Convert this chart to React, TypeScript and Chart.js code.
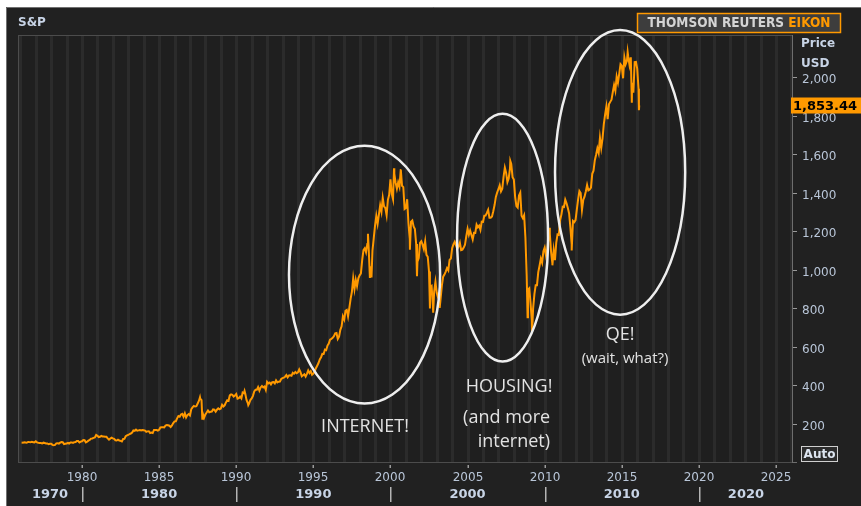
import React, { useEffect, useRef } from "react";
import { Chart, registerables } from "chart.js";

Chart.register(...registerables);

// ---------------- DATA ----------------
const FIRST_YEAR = 1976; // monthly closes start with January 1976 (plotted at month end)

const monthlyClose = [
  // 1976
  100.86, 99.71, 102.77, 101.64, 100.18, 104.28, 103.44, 102.91, 105.24, 102.9, 102.1, 107.46,
  // 1977
  102.03, 99.82, 98.42, 98.44, 96.12, 100.48, 98.85, 96.77, 96.53, 92.34, 94.83, 95.1,
  // 1978
  89.25, 87.04, 89.21, 96.83, 97.24, 95.53, 100.68, 103.29, 102.54, 93.15, 94.7, 96.11,
  // 1979
  99.93, 96.28, 101.59, 101.76, 99.08, 102.91, 103.81, 109.32, 109.32, 101.82, 106.16, 107.94,
  // 1980
  114.16, 113.66, 102.09, 106.29, 111.24, 114.24, 121.67, 122.38, 125.46, 127.47, 140.52, 135.76,
  // 1981
  129.55, 131.27, 136.0, 132.81, 132.59, 131.21, 130.92, 122.79, 116.18, 121.89, 126.35, 122.55,
  // 1982
  120.4, 113.11, 111.96, 116.44, 111.88, 109.61, 107.09, 119.51, 120.42, 133.71, 138.54, 140.64,
  // 1983
  145.3, 148.06, 152.96, 164.42, 162.39, 168.11, 162.56, 164.4, 166.07, 163.55, 166.4, 164.93,
  // 1984
  163.41, 157.06, 159.18, 160.05, 150.55, 153.18, 150.66, 166.68, 166.1, 166.09, 163.58, 167.24,
  // 1985
  179.63, 181.18, 180.66, 179.83, 189.55, 191.85, 190.92, 188.63, 182.08, 189.82, 202.17, 211.28,
  // 1986
  211.78, 226.92, 238.9, 235.52, 247.35, 250.84, 236.12, 252.93, 231.32, 243.98, 249.22, 242.17,
  // 1987
  274.08, 284.2, 291.7, 288.36, 290.1, 304.0, 318.66, 329.8, 321.83, 251.79, 230.3, 247.08,
  // 1988
  257.07, 267.82, 258.89, 261.33, 262.16, 273.5, 272.02, 261.52, 271.91, 278.97, 273.7, 277.72,
  // 1989
  297.47, 288.86, 294.87, 309.64, 320.52, 317.98, 346.08, 351.45, 349.15, 340.36, 345.99, 353.4,
  // 1990
  329.08, 331.89, 339.94, 330.8, 361.23, 358.02, 356.15, 322.56, 306.05, 304.0, 322.22, 330.22,
  // 1991
  343.93, 367.07, 375.22, 375.35, 389.83, 371.16, 387.81, 395.43, 387.86, 392.46, 375.22, 417.09,
  // 1992
  408.79, 412.7, 403.69, 414.95, 415.35, 408.14, 424.21, 414.03, 417.8, 418.68, 431.35, 435.71,
  // 1993
  438.78, 443.38, 451.67, 440.19, 450.19, 450.53, 448.13, 463.56, 458.93, 467.83, 461.79, 466.45,
  // 1994
  481.61, 467.14, 445.77, 450.91, 456.5, 444.27, 458.26, 475.49, 462.69, 472.35, 453.69, 459.27,
  // 1995
  470.42, 487.39, 500.71, 514.71, 533.4, 544.75, 562.06, 561.88, 584.41, 581.5, 605.37, 615.93,
  // 1996
  636.02, 640.43, 645.5, 654.17, 669.12, 670.63, 639.95, 651.99, 687.31, 705.27, 757.02, 740.74,
  // 1997
  786.16, 790.82, 757.12, 801.34, 848.28, 885.14, 954.29, 899.47, 947.28, 914.62, 955.4, 970.43,
  // 1998
  980.28, 1049.34, 1101.75, 1111.75, 1090.82, 1133.84, 1120.67, 957.28, 1017.01, 1098.67, 1163.63, 1229.23,
  // 1999
  1279.64, 1238.33, 1286.37, 1335.18, 1301.84, 1372.71, 1328.72, 1320.41, 1282.71, 1362.93, 1388.91, 1469.25,
  // 2000
  1394.46, 1366.42, 1498.58, 1452.43, 1420.6, 1454.6, 1430.83, 1517.68, 1436.51, 1429.4, 1315.23, 1320.28,
  // 2001
  1366.01, 1239.94, 1160.33, 1249.46, 1255.82, 1224.42, 1211.23, 1133.58, 1040.94, 1059.78, 1139.45, 1148.08,
  // 2002
  1130.2, 1106.73, 1147.39, 1076.92, 1067.14, 989.82, 911.62, 916.07, 815.28, 885.76, 936.31, 879.82,
  // 2003
  855.7, 841.15, 848.18, 916.92, 963.59, 974.5, 990.31, 1008.01, 995.97, 1050.71, 1058.2, 1111.92,
  // 2004
  1131.13, 1144.94, 1126.21, 1107.3, 1120.68, 1140.84, 1101.72, 1104.24, 1114.58, 1130.2, 1173.82, 1211.92,
  // 2005
  1181.27, 1203.6, 1180.59, 1156.85, 1191.5, 1191.33, 1234.18, 1220.33, 1228.81, 1207.01, 1249.48, 1248.29,
  // 2006
  1280.08, 1280.66, 1294.83, 1310.61, 1270.09, 1270.2, 1276.66, 1303.82, 1335.85, 1377.94, 1400.63, 1418.3,
  // 2007
  1438.24, 1406.82, 1420.86, 1482.37, 1530.62, 1503.35, 1455.27, 1473.99, 1526.75, 1549.38, 1481.14, 1468.36,
  // 2008
  1378.55, 1330.63, 1322.7, 1385.59, 1400.38, 1280.0, 1267.38, 1282.83, 1166.36, 968.75, 896.24, 903.25,
  // 2009
  825.88, 735.09, 797.87, 872.81, 919.14, 919.32, 987.48, 1020.62, 1057.08, 1036.19, 1095.63, 1115.1,
  // 2010
  1073.87, 1104.49, 1169.43, 1186.69, 1089.41, 1030.71, 1101.6, 1049.33, 1141.2, 1183.26, 1180.55, 1257.64,
  // 2011
  1286.12, 1327.22, 1325.83, 1363.61, 1345.2, 1320.64, 1292.28, 1218.89, 1131.42, 1253.3, 1246.96, 1257.6,
  // 2012
  1312.41, 1365.68, 1408.47, 1397.91, 1310.33, 1362.16, 1379.32, 1406.58, 1440.67, 1412.16, 1416.18, 1426.19,
  // 2013
  1498.11, 1514.68, 1569.19, 1597.57, 1630.74, 1606.28, 1685.73, 1632.97, 1681.55, 1756.54, 1805.81, 1848.36,
  // 2014
  1782.59, 1859.45, 1872.34, 1883.95, 1923.57, 1960.23, 1930.67, 2003.37, 1972.29, 2018.05, 2067.56, 2058.9,
  // 2015
  1994.99, 2104.5, 2067.89, 2085.51, 2107.39, 2063.11, 2103.84, 1972.18, 1920.03, 2079.36, 2080.41, 2043.94,
  // 2016
  1940.24,
];

// intra-month highs / lows visible in the daily line (decimal year, close)
const dailyExtremeDates = [
  1987.65, 1987.8, 1990.54, 1990.78, 1998.54, 1998.77, 2000.23, 2000.67, 2001.26, 2001.72,
  2002.56, 2002.77, 2003.19, 2007.77, 2008.89, 2009.18, 2010.31, 2010.5, 2011.75, 2015.38,
  2015.65, 2016.11,
];
const dailyExtremeValues = [
  336.77, 224.84, 368.95, 295.46, 1186.75, 959.44, 1527.46, 1520.77, 1103.25, 965.8,
  797.7, 776.76, 800.73, 1565.15, 752.44, 676.53, 1217.28, 1022.58, 1099.23, 2130.82,
  1867.61, 1829.08,
];

const lastDate = 2016.13;
const lastValue = 1853.44;

const yTickValues = [200, 400, 600, 800, 1000, 1200, 1400, 1600, 1800, 2000];
const xTickYears = [1980, 1985, 1990, 1995, 2000, 2005, 2010, 2015, 2020, 2025];
const decadeLabels = [1970, 1980, 1990, 2000, 2010, 2020];

const X_MIN = 1975.85;
const X_MAX = 2026.1;
const Y_MIN = 0;
const Y_MAX = 2220;

// annotation ellipses in data units: centre year, centre value, radius in years, radius in USD
const ellipseCenterYears = [1998.32, 2007.27, 2014.89];
const ellipseCenterValues = [974, 1166, 1506];
const ellipseRadiusYears = [4.9, 2.95, 4.22];
const ellipseRadiusValues = [670, 644, 740];

// annotation texts in data units
const noteTexts = ["INTERNET!", "HOUSING!", "(and more", "internet)", "QE!", "(wait, what?)"];
const noteYears = [1998.35, 2010.5, 2010.35, 2010.35, 2014.89, 2015.21];
const noteValues = [184, 392, 231, 106, 662, 538];
const noteAligns = ["center", "right", "right", "right", "center", "center"];
const noteSizes = [18, 18, 18, 18, 18, 15];

// ---------------- BUILD ----------------
function buildPoints() {
  const pts: { x: number; y: number }[] = [];
  monthlyClose.forEach((v, i) => pts.push({ x: FIRST_YEAR + (i + 1) / 12, y: v }));
  dailyExtremeDates.forEach((d, i) => pts.push({ x: d, y: dailyExtremeValues[i] }));
  pts.push({ x: lastDate, y: lastValue });
  pts.sort((a, b) => a.x - b.x);
  return pts;
}

const AXIS_TEXT = "#b9c6d8";
const AXIS_BOLD = "#c8d4e6";

const decorPlugin = {
  id: "eikonDecor",
  beforeDraw(chart: any) {
    const { ctx, chartArea: a } = chart;
    const xs = chart.scales.x;
    const W = chart.width;
    const H = chart.height;
    ctx.save();
    ctx.fillStyle = "#ffffff";
    ctx.fillRect(0, 0, W, H);
    ctx.fillStyle = "#212121";
    ctx.fillRect(6, 7, W - 6, H - 7);
    ctx.strokeStyle = "#707070";
    ctx.lineWidth = 1;
    ctx.beginPath();
    ctx.moveTo(6.5, H);
    ctx.lineTo(6.5, 7.5);
    ctx.lineTo(W, 7.5);
    ctx.stroke();

    ctx.fillStyle = "#1f1f1f";
    ctx.fillRect(a.left, a.top, a.right - a.left, a.bottom - a.top);
    ctx.fillStyle = "#2b2b2b";
    for (let yr = Math.ceil(xs.min); yr <= xs.max; yr++) {
      const x = Math.round(xs.getPixelForValue(yr));
      ctx.fillRect(x - 1, a.top, 3, a.bottom - a.top);
    }
    ctx.strokeStyle = "#4c4c4c";
    ctx.strokeRect(a.left + 0.5, a.top + 0.5, a.right - a.left - 1, a.bottom - a.top);
    ctx.restore();
  },
  afterDatasetsDraw(chart: any) {
    const { ctx } = chart;
    const xs = chart.scales.x;
    const ys = chart.scales.y;
    ctx.save();
    ctx.strokeStyle = "#eeeeee";
    ctx.lineWidth = 2.5;
    ellipseCenterYears.forEach((cy, i) => {
      const px = xs.getPixelForValue(cy);
      const py = ys.getPixelForValue(ellipseCenterValues[i]);
      const rx = Math.abs(xs.getPixelForValue(cy + ellipseRadiusYears[i]) - px);
      const ry = Math.abs(ys.getPixelForValue(ellipseCenterValues[i] + ellipseRadiusValues[i]) - py);
      ctx.beginPath();
      ctx.ellipse(px, py, rx, ry, 0, 0, Math.PI * 2);
      ctx.stroke();
    });
    ctx.fillStyle = "#e2e2e2";
    ctx.textBaseline = "middle";
    noteTexts.forEach((t, i) => {
      ctx.font = `${noteSizes[i]}px "Open Sans", "Noto Sans", sans-serif`;
      ctx.textAlign = noteAligns[i] as CanvasTextAlign;
      ctx.fillText(t, xs.getPixelForValue(noteYears[i]), ys.getPixelForValue(noteValues[i]));
    });
    ctx.restore();
  },
  afterDraw(chart: any) {
    const { ctx, chartArea: a } = chart;
    const xs = chart.scales.x;
    const ys = chart.scales.y;
    ctx.save();

    // title
    ctx.fillStyle = AXIS_BOLD;
    ctx.font = 'bold 12px "DejaVu Sans", sans-serif';
    ctx.textAlign = "left";
    ctx.textBaseline = "middle";
    ctx.fillText("S&P", a.left, 23);

    // logo
    ctx.fillStyle = "#3d3d3d";
    ctx.fillRect(637, 13, 204, 20);
    ctx.strokeStyle = "#ff9900";
    ctx.lineWidth = 1.5;
    ctx.strokeRect(637.5, 13.5, 203, 19);
    ctx.font = 'bold 13.5px "DejaVu Sans Condensed", "DejaVu Sans", sans-serif';
    const part1 = "THOMSON REUTERS ";
    const part2 = "EIKON";
    const w1 = ctx.measureText(part1).width;
    const w2 = ctx.measureText(part2).width;
    const sx = 739 - (w1 + w2) / 2;
    ctx.fillStyle = "#d4d4d4";
    ctx.fillText(part1, sx, 23.5);
    ctx.fillStyle = "#ff9900";
    ctx.fillText(part2, sx + w1, 23.5);

    // right axis line
    ctx.strokeStyle = "#6e6e6e";
    ctx.lineWidth = 1;
    ctx.beginPath();
    ctx.moveTo(a.right - 0.5, a.top);
    ctx.lineTo(a.right - 0.5, a.bottom + 1);
    ctx.moveTo(a.right - 0.5, a.bottom + 0.5);
    ctx.lineTo(a.right + 4, a.bottom + 0.5);
    ctx.stroke();

    // y ticks
    ctx.font = '12px "DejaVu Sans", sans-serif';
    ctx.textAlign = "left";
    yTickValues.forEach((v) => {
      const y = Math.round(ys.getPixelForValue(v)) + 0.5;
      ctx.strokeStyle = "#9a9a9a";
      ctx.beginPath();
      ctx.moveTo(a.right, y);
      ctx.lineTo(a.right + 4, y);
      ctx.stroke();
      ctx.fillStyle = AXIS_TEXT;
      ctx.fillText(v.toLocaleString("en-US"), a.right + 9, y + 2);
    });

    // axis title
    ctx.fillStyle = AXIS_BOLD;
    ctx.font = 'bold 12px "DejaVu Sans", sans-serif';
    ctx.fillText("Price", a.right + 8, 44);
    ctx.fillText("USD", a.right + 8, 64);

    // last value label
    const ly = ys.getPixelForValue(lastValue);
    ctx.fillStyle = "#ff9900";
    ctx.fillRect(a.right - 2, ly - 8, chart.width - a.right + 2, 16);
    ctx.fillStyle = "#000000";
    ctx.font = 'bold 13px "DejaVu Sans", sans-serif';
    ctx.fillText(lastValue.toLocaleString("en-US", { minimumFractionDigits: 2 }), a.right, ly + 1);

    // Auto box
    ctx.fillStyle = "#2c2c2c";
    ctx.fillRect(801, 446, 37, 16);
    ctx.strokeStyle = "#cfcfcf";
    ctx.lineWidth = 1;
    ctx.strokeRect(801.5, 446.5, 36, 15);
    ctx.fillStyle = "#dde5f0";
    ctx.font = 'bold 12px "DejaVu Sans", sans-serif';
    ctx.textAlign = "center";
    ctx.fillText("Auto", 819.5, 455);

    // x ticks
    ctx.font = '12px "DejaVu Sans", sans-serif';
    ctx.textAlign = "center";
    xTickYears.forEach((yr) => {
      const x = Math.round(xs.getPixelForValue(yr));
      ctx.fillStyle = "#9a9a9a";
      ctx.fillRect(x - 0.5, a.bottom + 3, 1.5, 3);
      ctx.fillStyle = AXIS_TEXT;
      ctx.fillText(String(yr), x, 478);
    });

    // decade row
    ctx.font = 'bold 13px "DejaVu Sans", sans-serif';
    decadeLabels.forEach((d) => {
      const s = Math.max(d, xs.min);
      const e = Math.min(d + 10, xs.max);
      const cx = (xs.getPixelForValue(s) + xs.getPixelForValue(e)) / 2;
      ctx.fillStyle = AXIS_BOLD;
      ctx.fillText(String(d), cx, 495);
      if (d > xs.min && d < xs.max) {
        const x = Math.round(xs.getPixelForValue(d));
        ctx.fillStyle = "#b4b4b4";
        ctx.fillRect(x, 487, 1.5, 15);
      }
    });

    ctx.restore();
  },
};

export default function App() {
  const ref = useRef<HTMLCanvasElement>(null);
  useEffect(() => {
    if (!ref.current) return;
    const chart = new Chart(ref.current, {
      type: "line",
      data: {
        datasets: [
          {
            label: "S&P",
            data: buildPoints(),
            borderColor: "#ff9900",
            borderWidth: 2,
            pointRadius: 0,
            tension: 0,
            fill: false,
          },
        ],
      },
      options: {
        animation: false,
        responsive: false,
        devicePixelRatio: 1,
        layout: { padding: { left: 18, right: 68, top: 35, bottom: 44 } },
        scales: {
          x: { type: "linear", min: X_MIN, max: X_MAX, display: false },
          y: { type: "linear", min: Y_MIN, max: Y_MAX, display: false },
        },
        plugins: { legend: { display: false }, tooltip: { enabled: false } },
      },
      plugins: [decorPlugin],
    } as any);
    return () => chart.destroy();
  }, []);
  return (
    <div style={{ position: "fixed", left: 0, top: 0, width: 861, height: 506, background: "#fff" }}>
      <canvas ref={ref} width={861} height={506} style={{ display: "block", width: 861, height: 506 }} />
    </div>
  );
}
